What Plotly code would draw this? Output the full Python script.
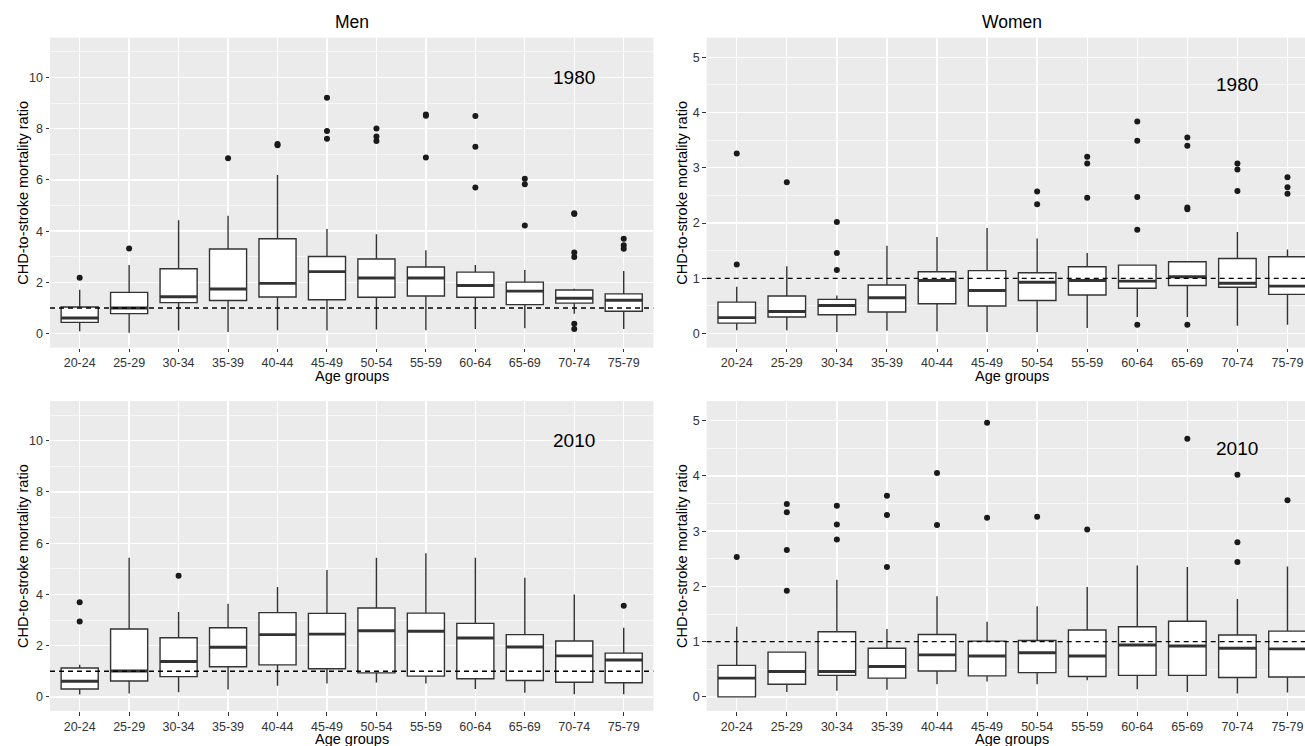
import plotly.graph_objects as go

W, H = 1305, 746

cats = ["20-24", "25-29", "30-34", "35-39", "40-44", "45-49",
        "50-54", "55-59", "60-64", "65-69", "70-74", "75-79"]

# ---- Men 1980 ----
m80_q1 = [0.44, 0.78, 1.21, 1.29, 1.43, 1.32, 1.42, 1.47, 1.42, 1.13, 1.19, 0.87]
m80_med = [0.61, 1.00, 1.44, 1.74, 1.96, 2.42, 2.17, 2.17, 1.88, 1.66, 1.38, 1.30]
m80_q3 = [1.04, 1.61, 2.53, 3.30, 3.70, 3.01, 2.91, 2.60, 2.40, 2.01, 1.70, 1.55]
m80_lo = [0.09, 0.03, 0.12, 0.06, 0.13, 0.12, 0.16, 0.13, 0.18, 0.21, 0.78, 0.18]
m80_hi = [1.71, 2.68, 4.42, 4.60, 6.19, 4.08, 3.88, 3.25, 2.68, 2.48, 1.75, 2.44]
m80_out = [[2.18], [3.32], [], [6.84], [7.40, 7.35], [9.21, 7.91, 7.61],
           [8.01, 7.69, 7.52], [8.55, 8.50, 6.87], [8.49, 7.29, 5.70],
           [6.04, 5.83, 4.22], [4.70, 4.67, 3.17, 2.99, 0.38, 0.18], [3.70, 3.45, 3.31]]

# ---- Women 1980 ----
w80_q1 = [0.19, 0.30, 0.34, 0.39, 0.54, 0.50, 0.60, 0.70, 0.82, 0.87, 0.84, 0.71]
w80_med = [0.29, 0.40, 0.51, 0.65, 0.96, 0.78, 0.93, 0.96, 0.95, 1.03, 0.91, 0.86]
w80_q3 = [0.57, 0.68, 0.62, 0.88, 1.12, 1.14, 1.10, 1.21, 1.24, 1.30, 1.36, 1.39]
w80_lo = [0.06, 0.06, 0.03, 0.05, 0.04, 0.03, 0.03, 0.10, 0.30, 0.30, 0.14, 0.16]
w80_hi = [0.85, 1.22, 0.69, 1.59, 1.75, 1.91, 1.72, 1.46, 1.24, 1.30, 1.84, 1.52]
w80_out = [[3.26, 1.25], [2.74], [2.02, 1.46, 1.15], [], [], [],
           [2.57, 2.34], [3.20, 3.08, 2.46], [3.84, 3.49, 2.47, 1.88, 0.16],
           [3.55, 3.40, 2.28, 2.25, 0.16], [3.08, 2.97, 2.58], [2.83, 2.65, 2.53]]

# ---- Men 2010 ----
m10_q1 = [0.31, 0.62, 0.79, 1.18, 1.25, 1.10, 0.94, 0.81, 0.71, 0.64, 0.57, 0.55]
m10_med = [0.61, 1.01, 1.38, 1.94, 2.43, 2.45, 2.58, 2.56, 2.30, 1.95, 1.60, 1.44]
m10_q3 = [1.13, 2.65, 2.31, 2.70, 3.29, 3.26, 3.47, 3.27, 2.87, 2.43, 2.18, 1.71]
m10_lo = [0.09, 0.13, 0.18, 0.29, 0.44, 0.52, 0.56, 0.52, 0.31, 0.16, 0.10, 0.10]
m10_hi = [1.26, 5.43, 3.31, 3.64, 4.29, 4.95, 5.43, 5.61, 5.43, 4.65, 4.00, 2.70]
m10_out = [[3.69, 2.94], [], [4.73], [], [], [], [], [], [], [], [], [3.56]]

# ---- Women 2010 ----
w10_q1 = [0.00, 0.23, 0.39, 0.34, 0.47, 0.38, 0.44, 0.37, 0.39, 0.39, 0.35, 0.36]
w10_med = [0.34, 0.46, 0.46, 0.55, 0.76, 0.74, 0.80, 0.74, 0.94, 0.92, 0.88, 0.87]
w10_q3 = [0.57, 0.81, 1.18, 0.88, 1.13, 1.01, 1.02, 1.21, 1.27, 1.37, 1.12, 1.19]
w10_lo = [0.00, 0.09, 0.11, 0.13, 0.23, 0.28, 0.23, 0.30, 0.14, 0.09, 0.06, 0.08]
w10_hi = [1.27, 0.81, 2.12, 1.23, 1.82, 1.36, 1.64, 1.99, 2.38, 2.35, 1.77, 2.36]
w10_out = [[2.53], [3.49, 3.34, 2.66, 1.92], [3.46, 3.12, 2.85], [3.64, 3.29, 2.35],
           [4.05, 3.11], [4.96, 3.24], [3.26], [3.03], [], [4.67],
           [4.02, 2.80, 2.44], [3.56]]

men_yticks = [0, 2, 4, 6, 8, 10]
men_yminor = [1, 3, 5, 7, 9, 11]
women_yticks = [0, 1, 2, 3, 4, 5]
women_yminor = [0.5, 1.5, 2.5, 3.5, 4.5]

panels = [
    dict(ax="", q1=m80_q1, med=m80_med, q3=m80_q3, lo=m80_lo, hi=m80_hi, out=m80_out, year="1980", yr_y=10),
    dict(ax="2", q1=w80_q1, med=w80_med, q3=w80_q3, lo=w80_lo, hi=w80_hi, out=w80_out, year="1980", yr_y=4.5),
    dict(ax="3", q1=m10_q1, med=m10_med, q3=m10_q3, lo=m10_lo, hi=m10_hi, out=m10_out, year="2010", yr_y=10),
    dict(ax="4", q1=w10_q1, med=w10_med, q3=w10_q3, lo=w10_lo, hi=w10_hi, out=w10_out, year="2010", yr_y=4.5),
]

BOXW = 0.75
LINE = "#333333"
TICKC = "#333333"
FONT = "Liberation Sans, Arial, sans-serif"

fig = go.Figure()
shapes = []
annotations = []

for p in panels:
    xa, ya = "x" + p["ax"], "y" + p["ax"]
    pos = list(range(len(cats)))
    fig.add_trace(go.Box(
        x=pos, q1=p["q1"], median=p["med"], q3=p["q3"],
        lowerfence=p["lo"], upperfence=p["hi"],
        width=BOXW, whiskerwidth=0, boxpoints=False,
        fillcolor="white", line=dict(color=LINE, width=1.4),
        xaxis=xa, yaxis=ya, showlegend=False, hoverinfo="skip"))
    mx, my = [], []
    for i, m in enumerate(p["med"]):
        mx += [i - BOXW / 2, i + BOXW / 2, None]
        my += [m, m, None]
    fig.add_trace(go.Scatter(x=mx, y=my, mode="lines",
                             line=dict(color=LINE, width=2.9),
                             xaxis=xa, yaxis=ya, showlegend=False, hoverinfo="skip"))
    ox, oy = [], []
    for i, vals in enumerate(p["out"]):
        for v in vals:
            ox.append(i)
            oy.append(v)
    fig.add_trace(go.Scatter(x=ox, y=oy, mode="markers",
                             marker=dict(color="#1a1a1a", size=6),
                             xaxis=xa, yaxis=ya, showlegend=False, hoverinfo="skip"))
    shapes.append(dict(type="line", xref=xa + " domain", yref=ya,
                       x0=0, x1=1, y0=1, y1=1,
                       line=dict(color="black", width=1.4, dash="5px,4px")))
    annotations.append(dict(text=p["year"], x=cats.index("70-74"), y=p["yr_y"],
                            xref=xa, yref=ya, showarrow=False,
                            xanchor="center", yanchor="middle",
                            font=dict(size=19, color="black", family=FONT)))


# layout geometry, given in window pixels
def fx(px):
    return px / W


def fy(py):
    return 1 - py / H


men_dom = [fx(50), fx(653.4)]
wom_dom = [fx(706.7), 1.0]
top_dom = [fy(347.7), fy(37.7)]
bot_dom = [fy(711), fy(401)]


def xaxis(dom, rng, anchor):
    return dict(domain=dom, range=rng, anchor=anchor,
                tickmode="array", tickvals=list(range(len(cats))), ticktext=cats,
                showgrid=True, gridcolor="white", gridwidth=1.3,
                zeroline=False, showline=False,
                ticks="outside", ticklen=3.5, tickwidth=1, tickcolor=LINE,
                tickfont=dict(size=12.5, color=TICKC, family=FONT),
                ticklabeloverflow="allow",
                automargin=False)


def yaxis(dom, rng, tv, mv, anchor):
    return dict(domain=dom, range=rng, anchor=anchor,
                tickmode="array", tickvals=tv,
                showgrid=True, gridcolor="white", gridwidth=1.3,
                minor=dict(tickmode="array", tickvals=mv, showgrid=True,
                           gridcolor="white", gridwidth=0.6, ticks=""),
                zeroline=False, showline=False,
                ticks="outside", ticklen=3.5, tickwidth=1, tickcolor=LINE,
                tickfont=dict(size=12.5, color=TICKC, family=FONT),
                automargin=False)


men_xr = [-0.6, 11.6]
wom_xr = [-0.6, 11.35]
men_yr = [-0.55, 11.55]
wom_yr = [-0.255, 5.355]

fig.update_layout(
    width=W, height=H,
    margin=dict(l=0, r=0, t=0, b=0),
    paper_bgcolor="white", plot_bgcolor="#EBEBEB",
    font=dict(family=FONT, color="black"),
    xaxis=xaxis(men_dom, men_xr, "y"),
    yaxis=yaxis(top_dom, men_yr, men_yticks, men_yminor, "x"),
    xaxis2=xaxis(wom_dom, wom_xr, "y2"),
    yaxis2=yaxis(top_dom, wom_yr, women_yticks, women_yminor, "x2"),
    xaxis3=xaxis(men_dom, men_xr, "y3"),
    yaxis3=yaxis(bot_dom, men_yr, men_yticks, men_yminor, "x3"),
    xaxis4=xaxis(wom_dom, wom_xr, "y4"),
    yaxis4=yaxis(bot_dom, wom_yr, women_yticks, women_yminor, "x4"),
    showlegend=False,
)

title_font = dict(size=17.5, color="black", family=FONT)
axt_font = dict(size=14.5, color="black", family=FONT)
men_cx = (men_dom[0] + men_dom[1]) / 2
wom_cx = fx(1012)


def ann(text, x, y, font, angle=0):
    return dict(text=text, x=x, y=y, xref="paper", yref="paper", showarrow=False,
                xanchor="center", yanchor="middle", textangle=angle, font=font)


annotations += [ann("Men", men_cx, fy(21.7), title_font),
                ann("Women", wom_cx, fy(21.7), title_font)]
for cy in [(37.7 + 347.7) / 2, (401 + 711) / 2]:
    annotations.append(ann("CHD-to-stroke mortality ratio", fx(23), fy(cy), axt_font, -90))
    annotations.append(ann("CHD-to-stroke mortality ratio", fx(682), fy(cy), axt_font, -90))
for ay in [376.5, 739]:
    annotations.append(ann("Age groups", men_cx, fy(ay), axt_font))
    annotations.append(ann("Age groups", wom_cx, fy(ay), axt_font))

fig.update_layout(shapes=shapes, annotations=annotations)
# the page's default 8px body margin would push the fixed-size figure out of the window
fig.write_html("out.html",
               config=dict(displayModeBar=False, staticPlot=True),
               post_script="document.body.style.margin='0px';document.body.style.overflow='hidden';")
